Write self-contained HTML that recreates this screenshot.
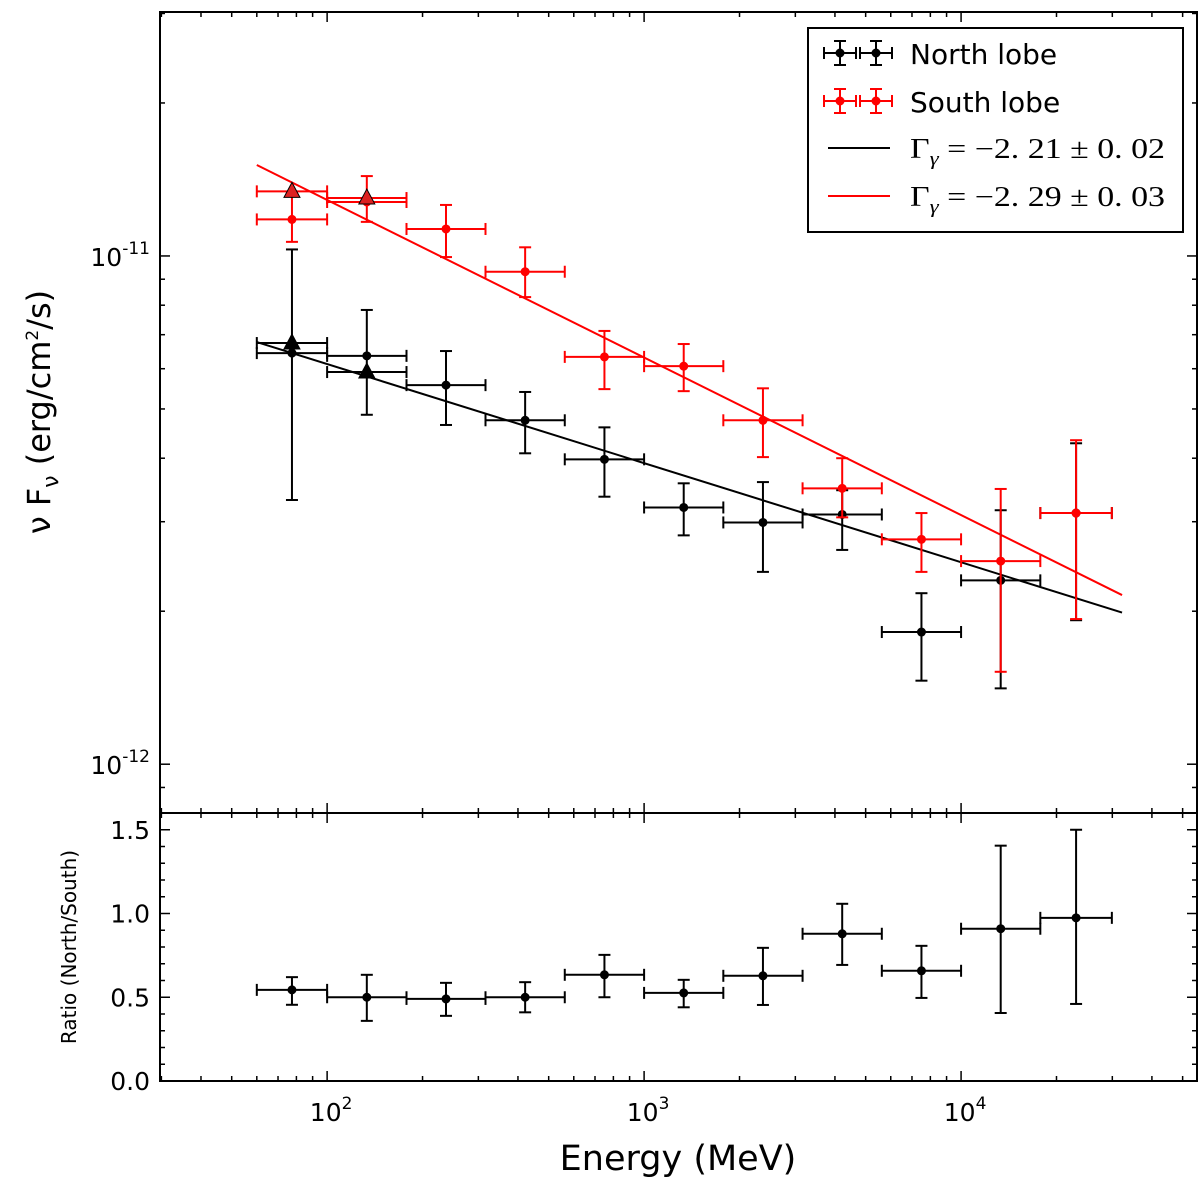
<!DOCTYPE html>
<html><head><meta charset="utf-8">
<style>
body{margin:0;background:#fff;}
svg{display:block;font-family:"DejaVu Sans","Liberation Sans",sans-serif;}
</style></head>
<body>
<svg id="chart" width="1200" height="1185" viewBox="0 0 1200 1185">
<rect x="0" y="0" width="1200" height="1185" fill="#fff"/>
<g id="marks"></g>
<rect x="160" y="12" width="1037" height="801" fill="none" stroke="#000" stroke-width="2"/>
<rect x="160" y="813" width="1037" height="268" fill="none" stroke="#000" stroke-width="2"/>
<text x="0" y="0" transform="translate(50,412) rotate(-90)" text-anchor="middle" font-size="32">ν F<tspan font-size="22" dy="8">ν</tspan><tspan dy="-8"> (erg/cm</tspan><tspan font-size="17" dy="-12">2</tspan><tspan dy="12">/s)</tspan></text>
<text x="0" y="0" transform="translate(76,947) rotate(-90)" text-anchor="middle" font-size="20">Ratio (North/South)</text>
<text x="678" y="1170" text-anchor="middle" font-size="35">Energy (MeV)</text>
<g>
<rect x="808" y="28" width="375" height="204" fill="#fff" stroke="#000" stroke-width="2"/>
<g id="legmarks"></g>
<text x="910" y="64" font-size="28">North lobe</text>
<text x="910" y="112" font-size="28">South lobe</text>
<text x="910" y="158" font-size="28" textLength="255" lengthAdjust="spacingAndGlyphs" font-family="'Liberation Serif',serif">Γ<tspan font-size="19" dy="7" font-style="italic">γ</tspan><tspan dy="-7"> = −2. 21 ± 0. 02</tspan></text>
<text x="910" y="206" font-size="28" textLength="255" lengthAdjust="spacingAndGlyphs" font-family="'Liberation Serif',serif">Γ<tspan font-size="19" dy="7" font-style="italic">γ</tspan><tspan dy="-7"> = −2. 29 ± 0. 03</tspan></text>
</g>
</svg>
<script>
const binEdges=[60,100,178,316,562,1000,1778,3162,5623,10000,17783,29900];
const northFlux=[6.44e-12,6.36e-12,5.57e-12,4.75e-12,3.98e-12,3.2e-12,2.99e-12,3.1e-12,1.82e-12,2.3e-12,3.12e-12];
const northHi=[1.03e-11,7.83e-12,6.50e-12,5.40e-12,4.60e-12,3.57e-12,3.59e-12,3.46e-12,2.17e-12,3.16e-12,4.28e-12];
const northLo=[3.31e-12,4.87e-12,4.65e-12,4.09e-12,3.36e-12,2.82e-12,2.39e-12,2.64e-12,1.46e-12,1.41e-12,1.92e-12];
const southFlux=[1.18e-11,1.277e-11,1.13e-11,9.31e-12,6.33e-12,6.07e-12,4.75e-12,3.49e-12,2.77e-12,2.51e-12,3.12e-12];
const southHi=[1.32e-11,1.436e-11,1.26e-11,1.04e-11,7.12e-12,6.71e-12,5.49e-12,4.0e-12,3.12e-12,3.48e-12,4.34e-12];
const southLo=[1.066e-11,1.167e-11,9.95e-12,8.30e-12,5.47e-12,5.42e-12,4.02e-12,3.06e-12,2.39e-12,1.52e-12,1.93e-12];
const northTri=[6.74e-12,5.91e-12];
const southTri=[1.34e-11,1.30e-11];
const ratio=[0.544,0.50,0.49,0.50,0.634,0.526,0.628,0.879,0.658,0.909,0.974];
const ratioHi=[0.62,0.634,0.586,0.59,0.753,0.604,0.795,1.058,0.807,1.405,1.50];
const ratioLo=[0.455,0.359,0.389,0.41,0.50,0.44,0.454,0.693,0.496,0.406,0.46];
const fitIndex=[2.195,2.31];
const fitNorm=[6.77e-12,1.51e-11];
const fitRange=[60,32200];
const xTicks=[100,1000,10000];
const yTicks=[1e-11,1e-12];
const ratioTicks=[0,0.5,1.0,1.5];

const NS='http://www.w3.org/2000/svg';
const X0=160,X1=1197,Y0=12,Y1=813,R0=813,R1=1081;
const xmin=Math.log10(29.7),xmax=Math.log10(55500);
const ymin=-12.096,ymax=-10.52;
const x=e=>X0+(Math.log10(e)-xmin)/(xmax-xmin)*(X1-X0);
const y=v=>Y1-(Math.log10(v)-ymin)/(ymax-ymin)*(Y1-Y0);
const yr=v=>R1-v/1.6*(R1-R0);
const marks=document.getElementById('marks');
function mk(tag,attrs,parent){const el=document.createElementNS(NS,tag);for(const k in attrs)el.setAttribute(k,attrs[k]);(parent||marks).appendChild(el);return el;}
function line(x1,y1,x2,y2,c,w){return mk('line',{x1:x1,y1:y1,x2:x2,y2:y2,stroke:c,'stroke-width':w||2});}

for(let d=1;d<=4;d++){for(let m=1;m<10;m++){const e=m*Math.pow(10,d);const px=x(e);if(px<X0||px>X1)continue;const L=m===1?10:5;
 for(const [a,b] of [[Y1,Y1-L],[Y0,Y0+L],[R1,R1-L],[R0,R0+L]]){const t=line(px,a,px,b,'#000',1.5);
 
 }}}
xTicks.forEach((e,i)=>{const t=mk('text',{x:x(e)+4,y:1121,'text-anchor':'middle','font-size':25});t.innerHTML='10<tspan font-size="17" dy="-12">'+Math.round(Math.log10(e))+'</tspan>';
 
 });
for(let d=-13;d<=-10;d++){for(let m=1;m<10;m++){const v=m*Math.pow(10,d);const py=y(v);if(py<Y0||py>Y1)continue;const L=m===1?10:5;
 for(const [a,b] of [[X0,X0+L],[X1,X1-L]]){const t=line(a,py,b,py,'#000',1.5);
 
 }}}
yTicks.forEach(v=>{const t=mk('text',{x:150,y:y(v)+10,'text-anchor':'end','font-size':25});t.innerHTML='10<tspan font-size="17" dy="-12">'+Math.round(Math.log10(v))+'</tspan>';
 
 });
ratioTicks.forEach(v=>{const py=yr(v);for(const [a,b] of [[X0,X0+10],[X1,X1-10]]){const t=line(a,py,b,py,'#000',1.5);
 
 }
 for(let k=1;k<5;k++){const pm=yr(v+k*0.1);if(pm<R0||v>=1.5)continue;for(const [a,b] of [[X0,X0+5],[X1,X1-5]]){const t=line(a,pm,b,pm,'#000',1.5);
 
 }}
 const t=mk('text',{x:150,y:py+9,'text-anchor':'end','font-size':25});t.textContent=v.toFixed(1);
 
 });

fitIndex.forEach((g,i)=>{const f=e=>fitNorm[i]*Math.pow(e/fitRange[0],2-g);
 const l=line(x(fitRange[0]),y(f(fitRange[0])),x(fitRange[1]),y(f(fitRange[1])),i?'#f00':'#000',2);
 
 });

function errpt(cx,cy,xl,xh,yl,yh,c,name,marker){const g=mk('g',{});
 
 
 mk('line',{x1:xl,y1:cy,x2:xh,y2:cy,stroke:c,'stroke-width':2},g);
 mk('line',{x1:xl,y1:cy-6,x2:xl,y2:cy+6,stroke:c,'stroke-width':2},g);
 mk('line',{x1:xh,y1:cy-6,x2:xh,y2:cy+6,stroke:c,'stroke-width':2},g);
 if(yl!==null){mk('line',{x1:cx,y1:yl,x2:cx,y2:yh,stroke:c,'stroke-width':2},g);
 mk('line',{x1:cx-6,y1:yl,x2:cx+6,y2:yl,stroke:c,'stroke-width':2},g);
 mk('line',{x1:cx-6,y1:yh,x2:cx+6,y2:yh,stroke:c,'stroke-width':2},g);}
 if(marker==='tri')mk('polygon',{points:`${cx},${cy-9} ${cx-8},${cy+6} ${cx+8},${cy+6}`,fill:c==='#f00'?'#d22':'#000',stroke:'#000','stroke-width':1},g);
 else mk('circle',{cx:cx,cy:cy,r:4,fill:c,stroke:c},g);return g;}
const cen=i=>Math.sqrt(binEdges[i]*binEdges[i+1]);
northFlux.forEach((v,i)=>errpt(x(cen(i)),y(v),x(binEdges[i]),x(binEdges[i+1]),y(northLo[i]),y(northHi[i]),'#000','north-point'));
southFlux.forEach((v,i)=>errpt(x(cen(i)),y(v),x(binEdges[i]),x(binEdges[i+1]),y(southLo[i]),y(southHi[i]),'#f00','south-point'));
northTri.forEach((v,i)=>errpt(x(cen(i)),y(v),x(binEdges[i]),x(binEdges[i+1]),null,null,'#000','north-triangle','tri'));
southTri.forEach((v,i)=>errpt(x(cen(i)),y(v),x(binEdges[i]),x(binEdges[i+1]),null,null,'#f00','south-triangle','tri'));
ratio.forEach((v,i)=>errpt(x(cen(i)),yr(v),x(binEdges[i]),x(binEdges[i+1]),yr(ratioLo[i]),yr(ratioHi[i]),'#000','ratio-point'));

const lg=document.getElementById('legmarks');
[['#000',53],['#f00',101]].forEach(([c,ly])=>{[840,876].forEach(cx=>{const g=errpt(cx,ly,cx-16,cx+16,ly+12,ly-12,c,'legend-marker');lg.appendChild(g);});});
[['#000',148],['#f00',196]].forEach(([c,ly])=>{const l=line(828,ly,890,ly,c,2);lg.appendChild(l);
 
 });
</script>
</body></html>
